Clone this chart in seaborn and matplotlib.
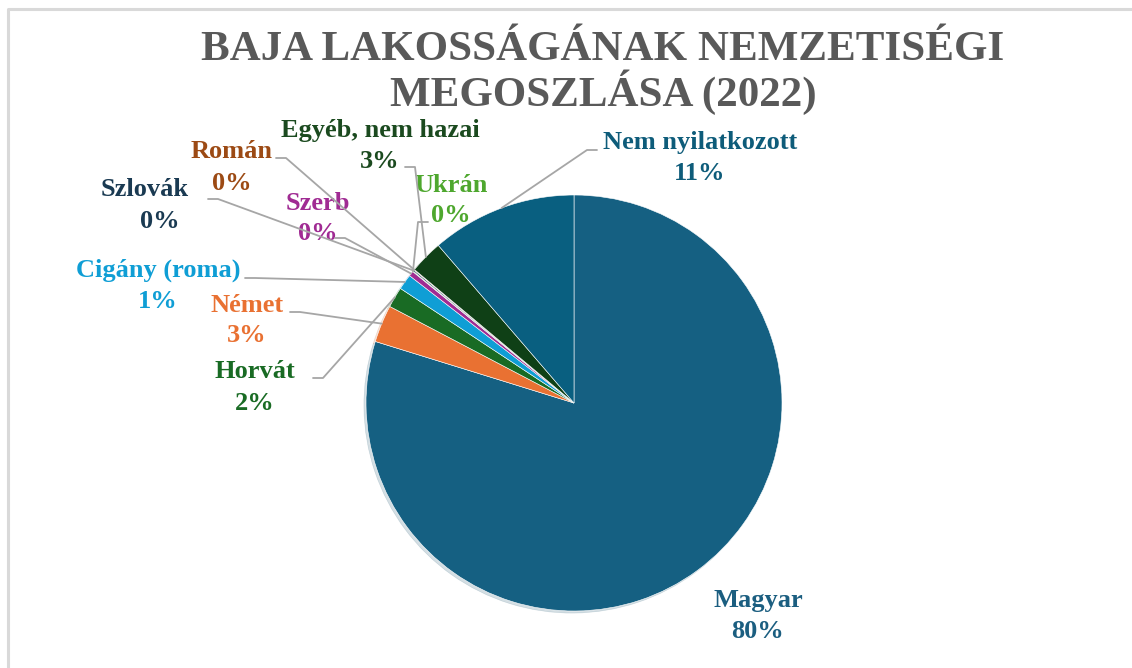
import numpy as np
import matplotlib.pyplot as plt
import seaborn as sns

# nemzetiségi adatok (százalék)
kategoriak = ['Magyar', 'Német', 'Horvát', 'Cigány (roma)', 'Szerb', 'Ukrán',
              'Szlovák', 'Román', 'Egyéb, nem hazai', 'Nem nyilatkozott']
ertekek = [79.7, 2.9, 1.6, 1.2, 0.4, 0.05, 0.1, 0.05, 2.6, 11.3]
szinek = ['#156082', '#E97132', '#196B24', '#0F9ED5', '#A02B93', '#4EA72E',
          '#0D3A4E', '#8C441E', '#0F4016', '#095F80']
cimke_szinek = ['#1B5E80', '#E97132', '#196B24', '#0F9ED5', '#A02B93', '#4EA72E',
                '#1A3A52', '#9C4A14', '#1B4A1F', '#0E5C7A']

sns.set_theme(style='white')
plt.rcParams['font.family'] = ['Liberation Serif', 'DejaVu Serif']

W, H = 1132, 668
fig = plt.figure(figsize=(W / 100, H / 100), dpi=100)
ax = fig.add_axes([0, 0, 1, 1])

# keret
ax.plot([8, 8, W + 5], [-5, H - 9, H - 9], color='#D9D9D9', lw=2.2, zorder=0)

cx, cy, r = 574, H - 403, 208
paletta = sns.color_palette(szinek)
wedges, _ = ax.pie(ertekek, colors=paletta, startangle=90, counterclock=False,
                   center=(cx, cy), radius=r, frame=True,
                   wedgeprops=dict(edgecolor='#FFFFFF', linewidth=0.4),
                   shadow=dict(ox=-1.5, oy=-1.5, shade=0.2, alpha=0.18))
ax.set_xlim(0, W)
ax.set_ylim(0, H)
ax.set_aspect('equal')
ax.axis('off')

osszeg = sum(ertekek)
szazalek = [int(np.floor(v / osszeg * 100 + 0.5)) for v in ertekek]

# címke helyek (név közepe, képpont felülről) és vonal töréspontok
hely = {
    'Magyar': (758, 600, None),
    'Német': (247, 305, (290, 312)),
    'Horvát': (255, 372, (313, 378)),
    'Cigány (roma)': (158, 270, (245, 278)),
    'Szerb': (318, 203, (335, 238)),
    'Ukrán': (451, 185, (428, 222)),
    'Szlovák': (145, 190, (208, 199)),
    'Román': (232, 152, (276, 158)),
    'Egyéb, nem hazai': (380, 130, (405, 167)),
    'Nem nyilatkozott': (700, 142, (597, 150)),
}
pct_x = {'Szlovák': 160}

for w, nev, p, szin in zip(wedges, kategoriak, szazalek, cimke_szinek):
    x, y, tores = hely[nev]
    ax.text(x, H - y, nev, ha='center', va='center', color=szin,
            fontsize=19, fontweight='bold')
    ax.text(pct_x.get(nev, x), H - y - 31, f'{p}%', ha='center', va='center',
            color=szin, fontsize=19, fontweight='bold')
    if tores is None:
        continue
    theta = np.deg2rad((w.theta1 + w.theta2) / 2)
    ex, ey = cx + r * np.cos(theta), cy + r * np.sin(theta)
    tx, ty = tores[0], H - tores[1]
    irany = 1 if ex > tx else -1
    ax.plot([tx, tx + irany * 10, ex], [ty, ty, ey], color='#A6A6A6', lw=1.3, zorder=5)

ax.text(603, H - 73, 'BAJA LAKOSSÁGÁNAK NEMZETISÉGI\nMEGOSZLÁSA (2022)', ha='center',
        va='center', color='#595959', fontsize=31, fontweight='bold', linespacing=1.02)

fig.savefig('out.png', dpi=100)
